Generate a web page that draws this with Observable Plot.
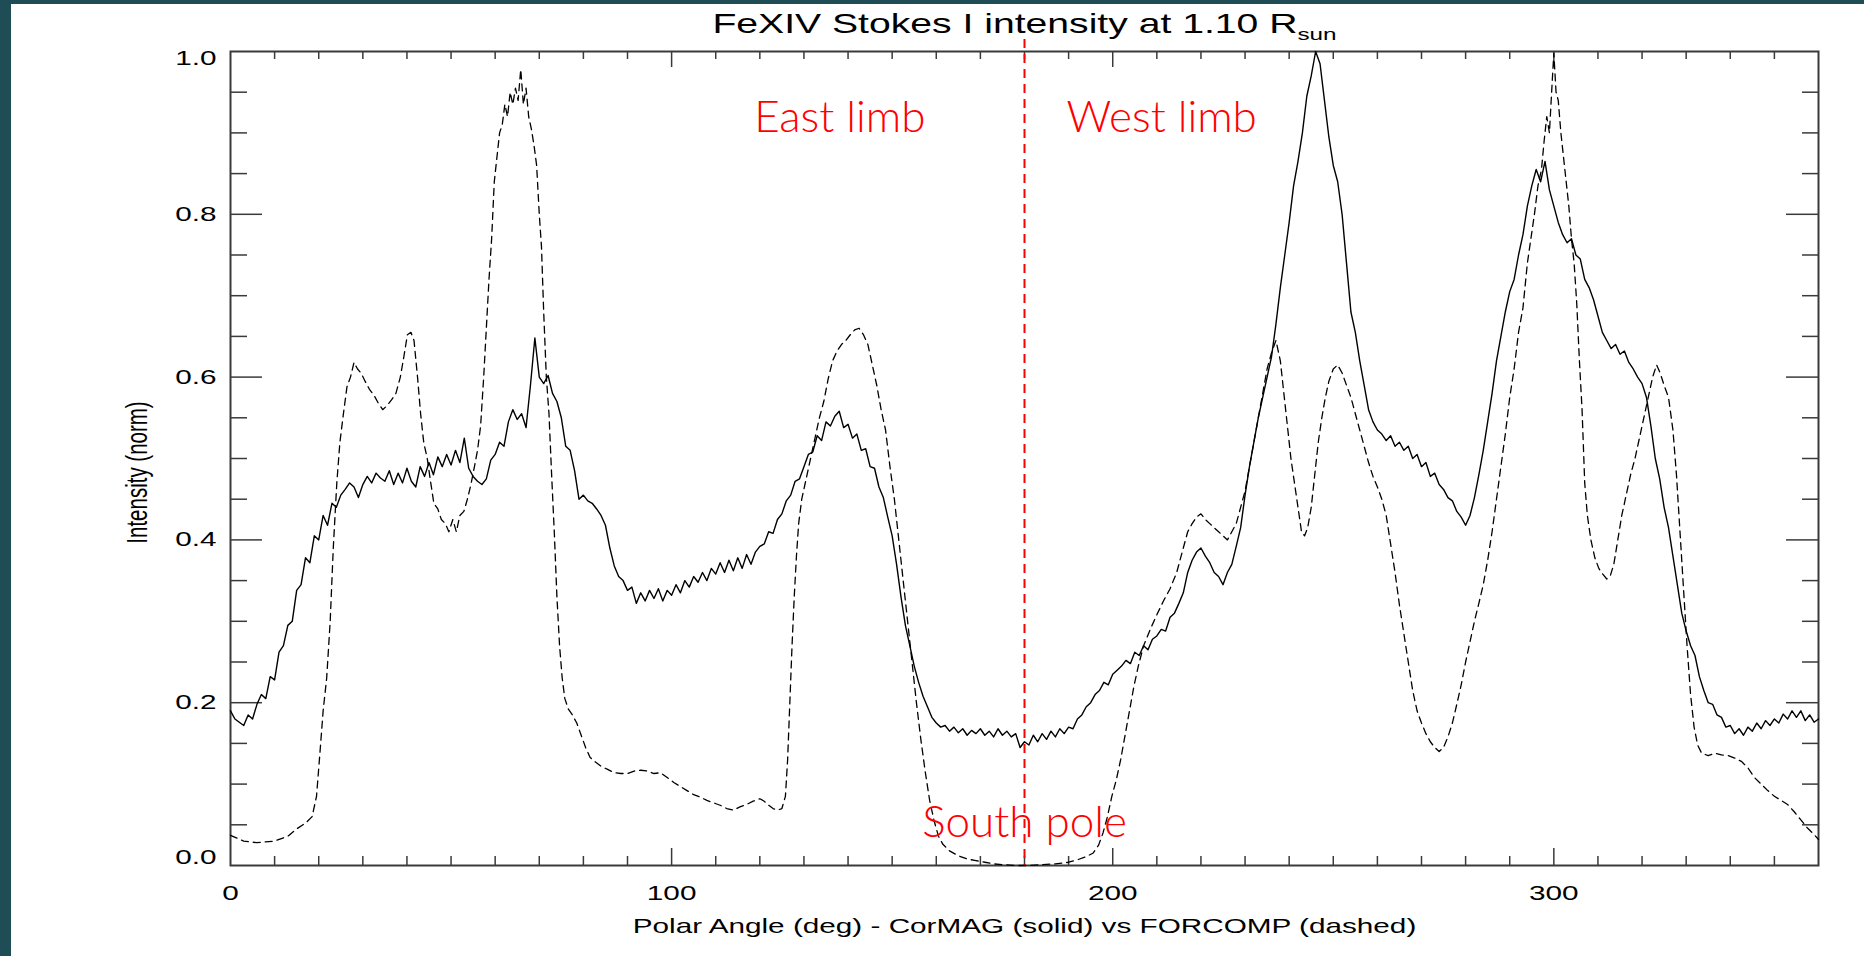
<!DOCTYPE html>
<html>
<head>
<meta charset="utf-8">
<script src="https://cdn.jsdelivr.net/npm/d3@7"></script>
<script src="https://cdn.jsdelivr.net/npm/@observablehq/plot@0.6"></script>
<style>
  html, body { margin: 0; padding: 0; }
  body { width: 1864px; height: 956px; background: #1e4d55; position: relative; overflow: hidden; }
  #chart { position: absolute; left: 11px; top: 4px; width: 1853px; height: 952px; background: #fff; }
  #chart svg { display: block; }
</style>
</head>
<body>
<div id="chart"></div>
<script>
// FeXIV Stokes I intensity at 1.10 Rsun, normalised, as a function of polar angle.

const titleMain = "FeXIV Stokes I intensity at 1.10 R";
const titleSub = "sun";
const xAxisTitle = "Polar Angle (deg) - CorMAG (solid) vs FORCOMP (dashed)";
const yAxisTitle = "Intensity (norm)";

const angleDomain = [0, 360];
const intensityDomain = [0, 1];
const xLabelTicks = [0, 100, 200, 300];
const yLabelTicks = [0.2, 0.4, 0.6, 0.8];
const yTopTick = [1.0];
const yBottomTick = [0.0];

// Region markers
const southPoleAngle = 180;
const eastLabel = "East limb";
const westLabel = "West limb";
const poleLabel = "South pole";

// CorMAG (solid): one sample per degree, 0..360
const cormagAngle = d3.range(0, 361, 1);
const cormagIntensity = [
  0.19, 0.18, 0.176, 0.172, 0.185, 0.18, 0.198, 0.21, 0.205, 0.232,
  0.228, 0.262, 0.27, 0.295, 0.3, 0.338, 0.345, 0.378, 0.372, 0.405,
  0.4, 0.43, 0.418, 0.445, 0.44, 0.455, 0.462, 0.47, 0.465, 0.452,
  0.468, 0.478, 0.47, 0.482, 0.476, 0.472, 0.485, 0.468, 0.482, 0.47,
  0.488, 0.472, 0.465, 0.49, 0.478, 0.495, 0.48, 0.502, 0.49, 0.505,
  0.492, 0.51, 0.495, 0.525, 0.488, 0.478, 0.472, 0.468, 0.475, 0.498,
  0.505, 0.52, 0.515, 0.545, 0.56, 0.548, 0.555, 0.538, 0.59, 0.648,
  0.6, 0.592, 0.602, 0.58, 0.57, 0.55, 0.515, 0.51, 0.485, 0.45,
  0.455, 0.448, 0.445, 0.438, 0.43, 0.418, 0.39, 0.368, 0.355, 0.35,
  0.338, 0.342, 0.322, 0.335, 0.325, 0.338, 0.328, 0.34, 0.325, 0.338,
  0.332, 0.345, 0.335, 0.35, 0.342, 0.355, 0.348, 0.36, 0.35, 0.365,
  0.358, 0.372, 0.36, 0.375, 0.362, 0.378, 0.365, 0.382, 0.37, 0.385,
  0.392, 0.395, 0.41, 0.408, 0.425, 0.432, 0.448, 0.455, 0.472, 0.475,
  0.49, 0.505, 0.508, 0.528, 0.522, 0.545, 0.54, 0.552, 0.558, 0.538,
  0.542, 0.525, 0.53, 0.51, 0.512, 0.49, 0.488, 0.465, 0.452, 0.428,
  0.405, 0.37, 0.33, 0.295, 0.27, 0.245, 0.225, 0.208, 0.195, 0.182,
  0.175, 0.17, 0.172, 0.165, 0.17, 0.163, 0.168, 0.16, 0.166, 0.162,
  0.168, 0.16, 0.165, 0.158, 0.168, 0.16, 0.165, 0.158, 0.162, 0.145,
  0.152, 0.148, 0.16, 0.152, 0.162, 0.155, 0.165, 0.158, 0.168, 0.162,
  0.17, 0.168, 0.18, 0.185, 0.195, 0.2, 0.21, 0.215, 0.225, 0.222,
  0.235, 0.24, 0.245, 0.252, 0.248, 0.262, 0.258, 0.27, 0.265, 0.278,
  0.282, 0.29, 0.288, 0.305, 0.31, 0.322, 0.335, 0.36, 0.375, 0.385,
  0.39, 0.38, 0.372, 0.36, 0.355, 0.345, 0.36, 0.37, 0.392, 0.415,
  0.455, 0.49, 0.52, 0.55, 0.575, 0.6, 0.625, 0.665, 0.71, 0.75,
  0.79, 0.835, 0.865, 0.9, 0.945, 0.97, 1.0, 0.985, 0.94, 0.895,
  0.86, 0.84, 0.8, 0.74, 0.68, 0.655, 0.62, 0.59, 0.56, 0.545,
  0.535, 0.53, 0.522, 0.528, 0.515, 0.52, 0.51, 0.515, 0.5, 0.505,
  0.49, 0.495, 0.478, 0.482, 0.468, 0.462, 0.452, 0.448, 0.435, 0.428,
  0.418, 0.43, 0.452, 0.48, 0.51, 0.545, 0.58, 0.62, 0.65, 0.68,
  0.705, 0.72, 0.75, 0.775, 0.81, 0.835, 0.855, 0.84, 0.865, 0.83,
  0.81, 0.79, 0.775, 0.765, 0.77, 0.75, 0.745, 0.72, 0.71, 0.695,
  0.675, 0.655, 0.645, 0.635, 0.64, 0.628, 0.632, 0.618, 0.61, 0.6,
  0.592, 0.575, 0.54, 0.5, 0.475, 0.44, 0.415, 0.38, 0.345, 0.31,
  0.288, 0.27, 0.258, 0.232, 0.215, 0.2, 0.198, 0.185, 0.182, 0.17,
  0.172, 0.162, 0.168, 0.16, 0.17, 0.165, 0.175, 0.168, 0.178, 0.172,
  0.18, 0.175, 0.186, 0.18, 0.19, 0.182, 0.19, 0.178, 0.185, 0.176,
  0.18
];

// FORCOMP (dashed): [polar angle, intensity]
const forcompProfile = [
  [0,0.037],[3,0.03],[6,0.028],[10,0.03],[13,0.036],[15,0.045],[17,0.052],[18.5,0.06],[19.5,0.085],
  [20.3,0.14],[21,0.19],[21.8,0.23],[22.6,0.3],[23.3,0.39],[24.1,0.47],[24.8,0.52],[25.6,0.555],
  [26.4,0.588],[27.2,0.6],[28,0.618],[28.8,0.61],[29.6,0.605],[30.5,0.595],[31.5,0.585],[32.5,0.578],
  [33.5,0.568],[34.5,0.56],[35.5,0.565],[36.5,0.572],[37.5,0.58],[38.5,0.6],[39.3,0.625],[40.1,0.652],
  [40.9,0.655],[41.6,0.645],[42.4,0.6],[43.1,0.555],[43.8,0.52],[44.6,0.5],[45.4,0.47],[46.1,0.445],
  [47,0.438],[47.8,0.425],[48.7,0.42],[49.5,0.41],[50.4,0.425],[51.2,0.41],[52,0.43],[52.9,0.435],
  [53.7,0.45],[54.5,0.468],[55.3,0.49],[56,0.51],[56.7,0.54],[57.4,0.6],[58,0.66],[58.6,0.72],
  [59.2,0.77],[59.8,0.84],[60.4,0.87],[61,0.9],[61.6,0.91],[62.2,0.935],[62.8,0.92],[63.4,0.95],
  [64,0.935],[64.6,0.955],[65.2,0.94],[65.8,0.978],[66.4,0.935],[67,0.955],[67.6,0.92],[68.2,0.905],
  [68.8,0.885],[69.4,0.86],[70,0.8],[70.5,0.76],[71,0.68],[71.6,0.6],[72.2,0.555],[72.8,0.48],
  [73.4,0.41],[74,0.33],[74.6,0.27],[75.2,0.23],[75.8,0.205],[76.6,0.192],[77.5,0.185],[78.5,0.175],
  [79.5,0.16],[80.5,0.145],[81.5,0.133],[82.5,0.128],[84,0.122],[85.5,0.118],[87,0.114],[88.5,0.113],
  [90,0.113],[91.5,0.116],[93,0.117],[94.5,0.116],[96,0.113],[97.5,0.114],[99,0.108],[100.5,0.102],
  [102,0.097],[103.5,0.092],[105,0.087],[106.5,0.084],[108,0.08],[109.5,0.077],[111,0.074],[112.5,0.07],
  [114,0.068],[115.5,0.072],[117,0.075],[118.5,0.079],[120,0.082],[121,0.079],[122,0.074],[123,0.07],
  [124,0.068],[125,0.07],[125.8,0.085],[126.3,0.13],[126.8,0.2],[127.3,0.27],[127.8,0.33],[128.3,0.38],
  [128.8,0.42],[129.5,0.45],[130.5,0.475],[131.5,0.5],[132.5,0.525],[133.5,0.55],[134.5,0.57],
  [135.5,0.598],[136.5,0.62],[137.5,0.632],[138.5,0.64],[139.5,0.645],[140.5,0.652],[141.5,0.658],
  [142.5,0.66],[143.5,0.652],[144.5,0.64],[145.5,0.615],[146.5,0.59],[147.5,0.56],[148.5,0.535],
  [149.5,0.49],[150.5,0.45],[151.5,0.4],[152.5,0.35],[153.5,0.3],[154.5,0.25],[155.5,0.2],
  [156.5,0.155],[157.5,0.115],[158.5,0.08],[159.5,0.055],[160.5,0.036],[161.5,0.026],[163,0.018],
  [165,0.012],[167,0.008],[169,0.006],[171,0.004],[173,0.002],[175,0.001],[178,0.0],[181,0.0],
  [184,0.001],[187,0.002],[190,0.004],[192,0.007],[194,0.011],[195.5,0.015],[196.8,0.025],[197.8,0.04],
  [198.8,0.06],[199.8,0.085],[200.8,0.105],[201.8,0.13],[202.8,0.16],[203.8,0.19],[204.8,0.22],
  [205.8,0.245],[207,0.27],[208.5,0.29],[210,0.308],[211.5,0.325],[213,0.34],[214.5,0.36],[216,0.39],
  [217,0.41],[218,0.42],[219,0.428],[220,0.432],[221,0.425],[222,0.42],[223,0.415],[224,0.41],
  [225,0.405],[226,0.4],[227,0.41],[228,0.42],[229,0.44],[230,0.46],[231,0.49],[232,0.52],[233,0.55],
  [234,0.58],[235,0.61],[236,0.63],[237,0.645],[238,0.62],[238.8,0.58],[239.6,0.54],[240.4,0.5],
  [241.2,0.47],[242,0.44],[242.8,0.41],[243.5,0.405],[244.2,0.415],[245,0.44],[245.8,0.48],[246.6,0.52],
  [247.4,0.55],[248.2,0.575],[249,0.595],[250,0.61],[251,0.615],[252,0.605],[253,0.59],[254,0.575],
  [255,0.555],[256,0.535],[257,0.515],[258,0.495],[259,0.478],[260,0.465],[261,0.45],[262,0.43],
  [263,0.395],[264,0.36],[265,0.32],[266,0.285],[267,0.25],[268,0.215],[269,0.19],[270,0.175],
  [271,0.162],[272,0.152],[273,0.145],[274,0.14],[275,0.145],[276,0.158],[277,0.175],[278,0.198],
  [279,0.222],[280,0.25],[281,0.275],[282,0.3],[283,0.322],[284,0.345],[285,0.375],[286,0.41],
  [287,0.45],[288,0.49],[289,0.53],[290,0.575],[291,0.61],[292,0.655],[293,0.685],[294,0.74],
  [294.8,0.77],[295.6,0.8],[296.4,0.835],[297.2,0.855],[297.8,0.89],[298.4,0.92],[299,0.9],[299.5,0.95],
  [300,0.998],[300.5,0.95],[301,0.94],[301.6,0.9],[302.2,0.87],[302.8,0.84],[303.4,0.81],[304,0.77],
  [304.6,0.74],[305.2,0.69],[305.8,0.62],[306.4,0.56],[307,0.47],[307.6,0.43],[308.4,0.4],[309.3,0.378],
  [310.2,0.365],[311.1,0.358],[312,0.352],[312.8,0.356],[313.6,0.37],[314.5,0.4],[315.4,0.43],
  [316.4,0.455],[317.4,0.48],[318.4,0.5],[319.4,0.525],[320.4,0.55],[321.4,0.575],[322.4,0.6],
  [323.3,0.615],[324.1,0.605],[325,0.59],[326,0.575],[327,0.535],[327.8,0.48],[328.6,0.41],[329.4,0.34],
  [330.2,0.27],[331,0.21],[331.8,0.17],[332.6,0.148],[333.5,0.138],[335,0.135],[336.5,0.138],
  [338,0.136],[339.5,0.135],[341,0.132],[342.5,0.128],[344,0.12],[345.5,0.108],[347,0.1],[348.5,0.092],
  [350,0.085],[351.5,0.08],[353,0.075],[354.5,0.066],[356,0.056],[357.5,0.046],[359,0.038],[360,0.032]
];

// Tick grid (IDL style: ticks drawn inward on all four sides)
const xMajor = [100, 200, 300];
const xMinor = d3.range(10, 360, 10).filter(d => d % 100 !== 0);
const yMajor = [0.2, 0.4, 0.6, 0.8];
const yMinor = d3.range(0.05, 1, 0.05).filter(d => Math.abs(d * 5 - Math.round(d * 5)) > 1e-6);

const W = 1853, H = 952;
const mL = 219, mR = 46, mT = 47, mB = 91;
const plotW = W - mL - mR, plotH = H - mT - mB;
const axisColor = "#3a3a3a";
const tickStyle = {stroke: axisColor, strokeWidth: 1.5};
const annotationFont = "Lato, 'Open Sans', sans-serif";

const svg = Plot.plot({
  width: W,
  height: H,
  marginLeft: mL,
  marginRight: mR,
  marginTop: mT,
  marginBottom: mB,
  x: {domain: angleDomain},
  y: {domain: intensityDomain},
  style: {fontFamily: "'Liberation Sans', Arial, sans-serif", fontSize: "20.5px", color: "#000", background: "#fff", overflow: "visible"},
  marks: [
    // ticks
    Plot.tickX(xMinor, {x: d => d, insetTop: plotH - 9, ...tickStyle}),
    Plot.tickX(xMajor, {x: d => d, insetTop: plotH - 17, ...tickStyle}),
    Plot.tickX(xMinor, {x: d => d, insetBottom: plotH - 8, ...tickStyle}),
    Plot.tickX(xMajor, {x: d => d, insetBottom: plotH - 16, ...tickStyle}),
    Plot.tickY(yMinor, {y: d => d, insetRight: plotW - 17, ...tickStyle}),
    Plot.tickY(yMajor, {y: d => d, insetRight: plotW - 32, ...tickStyle}),
    Plot.tickY(yMinor, {y: d => d, insetLeft: plotW - 16, ...tickStyle}),
    Plot.tickY(yMajor, {y: d => d, insetLeft: plotW - 32, ...tickStyle}),
    Plot.frame({stroke: axisColor, strokeWidth: 2}),

    // tick labels
    Plot.axisX(xLabelTicks, {tickSize: 0, tickPadding: 20, tickFormat: d => String(d), label: null, fill: "#000"}),
    Plot.axisY(yLabelTicks, {tickSize: 0, tickPadding: 14, tickFormat: d3.format(".1f"), label: null, fill: "#000"}),
    Plot.axisY(yTopTick, {tickSize: 0, tickPadding: 14, tickFormat: d3.format(".1f"), label: null, dy: 7, fill: "#000"}),
    Plot.axisY(yBottomTick, {tickSize: 0, tickPadding: 14, tickFormat: d3.format(".1f"), label: null, dy: -8, fill: "#000"}),

    // south pole divider
    Plot.ruleX([southPoleAngle], {x: d => d, stroke: "#ff0000", strokeWidth: 2, strokeDasharray: "9,6", insetTop: -12}),

    // profiles
    Plot.line(forcompProfile, {x: d => d[0], y: d => d[1], stroke: "#000", strokeWidth: 1.3, strokeDasharray: "7,5"}),
    Plot.line(cormagIntensity, {x: (d, i) => cormagAngle[i], y: d => d, stroke: "#000", strokeWidth: 1.4}),

    // titles
    Plot.text([titleMain], {text: d => d, frameAnchor: "top", dy: -19, lineAnchor: "bottom", fontSize: 27, fill: "#000"}),
    Plot.text([xAxisTitle], {text: d => d, frameAnchor: "bottom", dy: 67, lineAnchor: "bottom", fill: "#000"}),
    Plot.text([yAxisTitle], {text: d => d, frameAnchor: "left", dx: -93, dy: 14, rotate: -90, textAnchor: "middle", lineAnchor: "middle", fill: "#000"}),

    // region annotations
    Plot.text([eastLabel], {text: d => d, x: () => southPoleAngle, frameAnchor: "top", dy: 66, dx: -99, textAnchor: "end", lineAnchor: "middle", fill: "#ff0000", fontSize: 44, fontWeight: 300, fontFamily: annotationFont}),
    Plot.text([westLabel], {text: d => d, x: () => southPoleAngle, frameAnchor: "top", dy: 66, dx: 42, textAnchor: "start", lineAnchor: "middle", fill: "#ff0000", fontSize: 44, fontWeight: 300, fontFamily: annotationFont}),
    Plot.text([poleLabel], {text: d => d, x: () => southPoleAngle, frameAnchor: "bottom", dy: -43, textAnchor: "middle", lineAnchor: "middle", fill: "#ff0000", fontSize: 44, fontWeight: 300, fontFamily: annotationFont})
  ]
});

const allText = Array.from(svg.querySelectorAll("text"));

// subscript on the title
const titleNode = allText.find(t => t.textContent === titleMain);
if (titleNode) {
  const sub = document.createElementNS("http://www.w3.org/2000/svg", "tspan");
  sub.setAttribute("font-size", "0.62em");
  sub.setAttribute("dy", "0.42em");
  sub.textContent = titleSub;
  titleNode.appendChild(sub);
}

// the plot lettering is wide-set: stretch glyphs across the page (annotations excluded)
const stretch = 1.45;
const annotations = new Set([eastLabel, westLabel, poleLabel]);
for (const t of allText) {
  if (annotations.has(t.textContent)) continue;
  const tr = t.getAttribute("transform") || "";
  t.setAttribute("transform", tr + (tr.includes("rotate") ? ` scale(1,${stretch})` : ` scale(${stretch},1)`));
}

document.getElementById("chart").appendChild(svg);
</script>
</body>
</html>
